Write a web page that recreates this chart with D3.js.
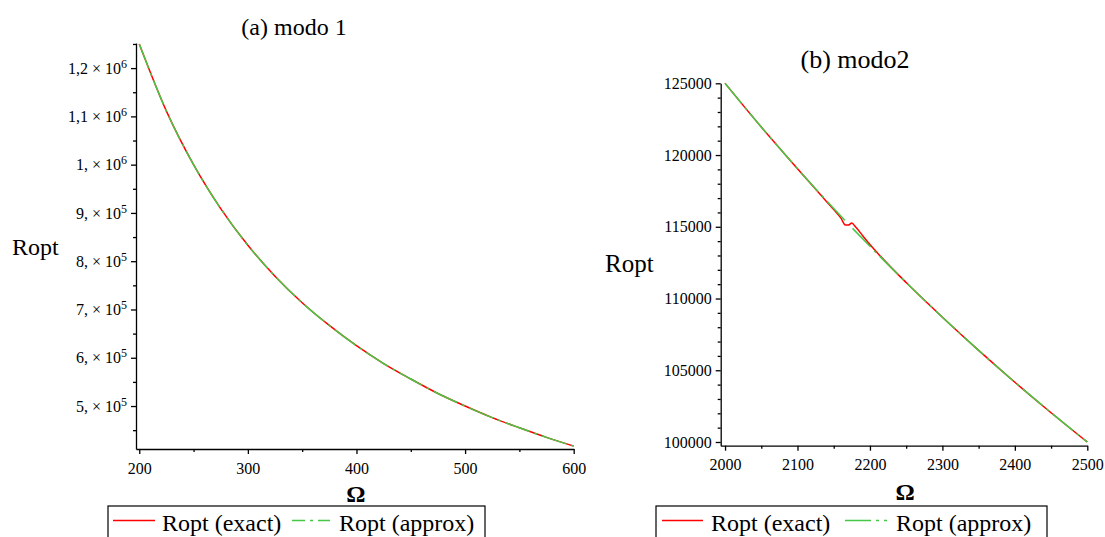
<!DOCTYPE html>
<html>
<head>
<meta charset="utf-8">
<script src="https://cdn.jsdelivr.net/npm/d3@7"></script>
<style>
  html, body { margin: 0; padding: 0; background: #fff; }
  svg { display: block; }
  text { font-family: "Liberation Serif", "Times New Roman", serif; fill: #000; }
</style>
</head>
<body>
<svg id="chart" width="1105" height="537"></svg>
<script>
// ---- Panel (a): modo 1 ----
const omegaA = [200, 225, 250, 275, 300, 325, 350, 375, 400, 425, 450, 475, 500, 525, 550, 575, 600];
const roptExactA = [1250000, 1111000, 1000000, 909000, 833000, 769000, 714000, 667000, 625000,
                    588000, 556000, 526000, 500000, 476000, 455000, 435000, 417000];
const roptApproxA = [1250000, 1111000, 1000000, 909000, 833000, 769000, 714000, 667000, 625000,
                     588000, 556000, 526000, 500000, 476000, 455000, 435000, 417000];
const xTicksA = [200, 300, 400, 500, 600];
const xMinorA = [250, 350, 450, 550];
const yTicksA = [1200000, 1100000, 1000000, 900000, 800000, 700000, 600000, 500000];
const yMantissaA = ["1,2", "1,1", "1,", "9,", "8,", "7,", "6,", "5,"];
const yExponentA = ["6", "6", "6", "5", "5", "5", "5", "5"];
const yMinorA = [1250000, 1150000, 1050000, 950000, 850000, 750000, 650000, 550000, 450000];

// ---- Panel (b): modo2 ----
const omegaBExact = [2000, 2050, 2100, 2130, 2150, 2160, 2166, 2170, 2175, 2180, 2190, 2200, 2215,
                     2250, 2300, 2350, 2400, 2450, 2500];
const roptExactB = [125000, 121950, 119050, 117330, 116200, 115600, 115130, 115120, 115260, 115000,
                    114380, 113760, 112920, 111111, 108696, 106383, 104167, 102041, 100000];
const omegaBApprox = [2000, 2050, 2100, 2130, 2150, 2168, 2172, 2176, 2200, 2250, 2300, 2350, 2400, 2450, 2500];
const roptApproxB = [125000, 121951, 119048, 117371, 116279, 115314, null, 114890, 113636, 111111,
                     108696, 106383, 104167, 102041, 100000];
const xTicksB = [2000, 2100, 2200, 2300, 2400, 2500];
const xMinorB = [2050, 2150, 2250, 2350, 2450];
const yTicksB = [125000, 120000, 115000, 110000, 105000, 100000];
const yMinorB = d3.range(101000, 125000, 1000).filter(v => v % 5000 !== 0);

const legendLabels = ["Ropt (exact)", "Ropt (approx)"];
const RED = "#ff0000";
const GREEN = "#46c846";
const DASHDOT = "26,5,3,5";

const svg = d3.select("#chart");

function drawPanel(cfg) {
  const g = svg.append("g");
  const x = d3.scaleLinear().domain(cfg.xDomain).range(cfg.xRange);
  const y = d3.scaleLinear().domain(cfg.yDomain).range(cfg.yRange);

  // minor ticks
  g.append("g").attr("transform", `translate(0,${cfg.yRange[0]})`)
    .call(d3.axisBottom(x).tickValues(cfg.xMinor).tickSize(3).tickFormat(""))
    .call(a => a.select(".domain").remove());
  g.append("g").attr("transform", `translate(${cfg.xRange[0]},0)`)
    .call(d3.axisLeft(y).tickValues(cfg.yMinor).tickSize(3).tickFormat(""))
    .call(a => a.select(".domain").remove());

  // major axes
  const xa = g.append("g").attr("transform", `translate(0,${cfg.yRange[0]})`)
    .call(d3.axisBottom(x).tickValues(cfg.xTicks).tickSize(5).tickSizeOuter(0).tickPadding(cfg.xPad).tickFormat(d3.format("d")));
  xa.selectAll("text").attr("font-size", 16);

  const ya = g.append("g").attr("transform", `translate(${cfg.xRange[0]},0)`)
    .call(d3.axisLeft(y).tickValues(cfg.yTicks).tickSize(5).tickSizeOuter(0).tickPadding(4).tickFormat(d3.format("d")));
  ya.selectAll("text").attr("font-size", 16);
  if (cfg.yMantissa) {
    ya.selectAll(".tick text").each(function(d, i) {
      const t = d3.select(this).text("");
      t.append("tspan").text(cfg.yMantissa[i] + " \u00d7 10");
      t.append("tspan").attr("dy", -6).attr("font-size", 12).text(cfg.yExponent[i]);
    });
  }
  g.selectAll(".domain, .tick line").attr("stroke", "#000").attr("stroke-width", 1.3);

  // curves
  const line = d3.line()
    .defined(d => d[1] !== null)
    .x(d => x(d[0])).y(d => y(d[1]))
    .curve(d3.curveMonotoneX);
  g.append("path")
    .datum(cfg.exactX.map((v, i) => [v, cfg.exactY[i]]))
    .attr("d", line).attr("fill", "none").attr("stroke", RED).attr("stroke-width", 1.5);
  g.append("path")
    .datum(cfg.approxX.map((v, i) => [v, cfg.approxY[i]]))
    .attr("d", line).attr("fill", "none").attr("stroke", GREEN).attr("stroke-width", 1.5)
    .attr("stroke-dasharray", DASHDOT);

  // titles
  svg.append("text").attr("x", cfg.title.x).attr("y", cfg.title.y)
    .attr("text-anchor", "middle").attr("font-size", cfg.title.size).text(cfg.title.text);
  svg.append("text").attr("x", cfg.ylab.x).attr("y", cfg.ylab.y)
    .attr("font-size", cfg.ylab.size).text("Ropt");
  svg.append("text").attr("x", (cfg.xRange[0] + cfg.xRange[1]) / 2 + 1).attr("y", cfg.omegaY)
    .attr("text-anchor", "middle").attr("font-size", 24).attr("font-weight", "bold").text("\u03a9");

  // legend
  const L = cfg.legend;
  const lg = svg.append("g");
  lg.append("rect").attr("x", L.x0).attr("y", 506).attr("width", L.x1 - L.x0).attr("height", 40)
    .attr("fill", "#fff").attr("stroke", "#000").attr("stroke-width", 1.2);
  lg.append("line").attr("x1", L.red[0]).attr("x2", L.red[1]).attr("y1", 520.5).attr("y2", 520.5)
    .attr("stroke", RED).attr("stroke-width", 1.5);
  lg.append("text").attr("x", L.t1).attr("y", 531).attr("font-size", 24).text(legendLabels[0]);
  lg.append("line").attr("x1", L.green[0]).attr("x2", L.green[1]).attr("y1", 520.5).attr("y2", 520.5)
    .attr("stroke", GREEN).attr("stroke-width", 1.5)
    .attr("stroke-dasharray", DASHDOT).attr("stroke-dashoffset", L.dashOffset);
  lg.append("text").attr("x", L.t2).attr("y", 531).attr("font-size", 24).text(legendLabels[1]);
}

drawPanel({
  xDomain: [197, 600], xRange: [136, 573.7],
  yDomain: [411000, 1252000], yRange: [449, 43],
  xTicks: xTicksA, xMinor: xMinorA, yTicks: yTicksA, yMinor: yMinorA,
  yMantissa: yMantissaA, yExponent: yExponentA, xPad: 9,
  exactX: omegaA, exactY: roptExactA, approxX: omegaA, approxY: roptApproxA,
  title: { text: "(a) modo 1", x: 294, y: 35, size: 24 },
  ylab: { x: 12, y: 255, size: 24 },
  omegaY: 502,
  legend: { x0: 108, x1: 485, red: [113, 155], t1: 162, green: [292, 330], t2: 339, dashOffset: 13 }
});

drawPanel({
  xDomain: [1994, 2500], xRange: [720.7, 1087.3],
  yDomain: [99742, 125000], yRange: [445.7, 83.3],
  xTicks: xTicksB, xMinor: xMinorB, yTicks: yTicksB, yMinor: yMinorB, xPad: 8,
  exactX: omegaBExact, exactY: roptExactB, approxX: omegaBApprox, approxY: roptApproxB,
  title: { text: "(b) modo2", x: 855, y: 68, size: 26 },
  ylab: { x: 605, y: 272, size: 25 },
  omegaY: 500,
  legend: { x0: 656, x1: 1047, red: [662, 703], t1: 711, green: [845, 887], t2: 896, dashOffset: 0 }
});
</script>
</body>
</html>
